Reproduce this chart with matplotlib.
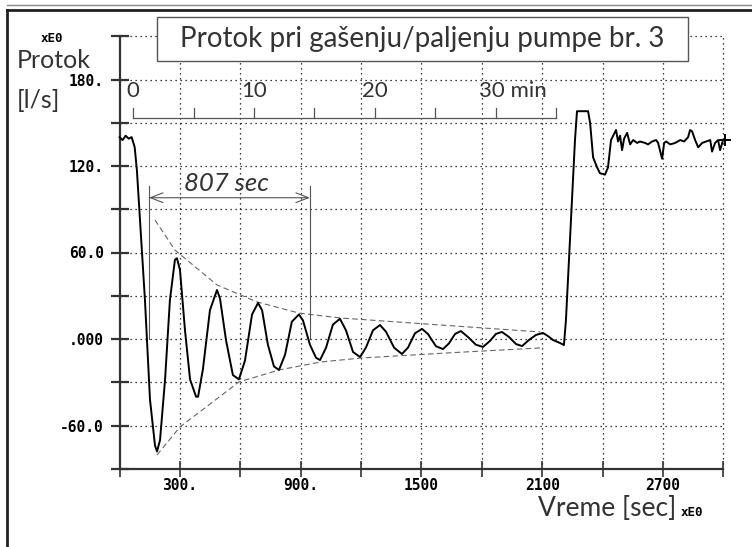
import matplotlib
matplotlib.use("Agg")
import matplotlib.pyplot as plt
from matplotlib.lines import Line2D
from matplotlib.patches import Rectangle

# flow trace: time [s], flow [l/s]
time_s = [0, 15, 30, 45, 60, 75, 86, 106, 126, 151, 176, 186, 201, 226, 250, 275, 285, 300,
          325, 350, 380, 390, 414, 449, 484, 499, 529, 563, 593, 623, 658, 688, 708, 737,
          767, 792, 822, 856, 891, 911, 946, 976, 996, 1026, 1060, 1095, 1125, 1160, 1195,
          1224, 1259, 1294, 1324, 1364, 1403, 1433, 1468, 1503, 1532, 1572, 1607, 1637,
          1667, 1696, 1731, 1771, 1806, 1840, 1870, 1900, 1935, 1970, 2000, 2034, 2069,
          2104, 2129, 2154, 2189, 2208, 2218, 2263, 2273, 2328, 2338, 2353, 2373, 2387,
          2412, 2427, 2442, 2467, 2477, 2487, 2497, 2507, 2522, 2537, 2552, 2572, 2586,
          2611, 2626, 2646, 2666, 2676, 2696, 2706, 2716, 2736, 2761, 2786, 2805, 2825,
          2835, 2845, 2860, 2875, 2895, 2915, 2935, 2944, 2959, 2974, 2984, 2999]
flow = [140, 138, 141, 139, 140, 133, 117, 72, 27, -42, -74, -78, -70, -28, 27, 55, 56, 48,
        6, -28, -40, -40, -21, 20, 34, 28, -1, -25, -28, -15, 17, 25, 20, -4,
        -19, -21.5, -11, 12, 17, 13, -4, -13, -14.6, -6, 10, 14, 6, -9, -12.5,
        -6, 6, 9.7, 5, -6, -10.4, -6, 4, 7, 3.5, -5, -7, -3,
        3.5, 5.5, 1.4, -4, -5.5, -1.4, 3.5, 4.9, 1.4, -3.5, -4.9, -0.7, 2.8,
        4.2, 2, -0.7, -2.8, -4.2, 13, 138, 158, 158, 150, 126, 119, 115,
        114, 119, 138, 145, 137, 141, 131, 139, 143, 135, 138, 136, 137,
        136, 135, 137, 138, 136, 125, 136, 137, 135, 136, 138, 137, 140,
        145, 144, 138, 133, 136, 137, 138, 130, 136, 138, 131, 138]

# hand drawn decay envelope
upper_t = [176, 275, 484, 683, 891, 1095, 1493, 2090]
upper_v = [82.5, 61.7, 37.5, 25.7, 18, 14.6, 10.7, 4.9]
lower_t = [186, 300, 593, 792, 996, 1200, 1650, 2090]
lower_v = [-80.4, -61, -29.8, -21.5, -16, -13.2, -9.5, -6.2]

x_ticks = [0, 300, 600, 900, 1200, 1500, 1800, 2100, 2400, 2700, 3000]
x_tick_labels = ["", "300.", "", "900.", "", "1500", "", "2100", "", "2700", ""]
y_ticks = [-90, -60, -30, 0, 30, 60, 90, 120, 150, 180, 210]
y_tick_labels = ["", "-60.0", "", ".000", "", "60.0", "", "120.", "", "180.", ""]

minute_ticks = [0, 5, 10, 15, 20, 25, 30, 35]
minute_labels = {0: "0", 10: "10", 20: "20", 30: "30 min"}
MIN_START = 68          # seconds where the minute scale starts
PERIOD = (146, 946)     # marked oscillation span

HAND = dict(family="Lato", weight="normal", color="#333333")
MONO = dict(family="DejaVu Sans Mono", weight="bold", color="black")

fig = plt.figure(figsize=(7.52, 5.47), dpi=100)
W, H = 752, 547
ax = fig.add_axes([119.6 / W, 1 - 468.75 / H, 603.7 / W, 432.5 / H])
ax.set_xlim(0, 3000)
ax.set_ylim(-90, 210)

for s in ["top", "right"]:
    ax.spines[s].set_visible(False)
for s in ["left", "bottom"]:
    ax.spines[s].set_color("#333333")
    ax.spines[s].set_linewidth(1.6)

ax.set_xticks(x_ticks)
ax.set_xticklabels(x_tick_labels)
ax.set_yticks(y_ticks)
ax.set_yticklabels(y_tick_labels)
ax.tick_params(axis="y", direction="inout", length=13, width=1.6, color="#333333", pad=5)
ax.tick_params(axis="x", direction="inout", length=11, width=1.2, color="#333333", pad=1)
for lab in ax.get_xticklabels() + ax.get_yticklabels():
    lab.set_fontfamily(MONO["family"])
    lab.set_fontweight("bold")
    lab.set_fontsize(10.5)

dots = (0, (1, 3))
for t in x_ticks[1:]:
    ax.axvline(t, color="black", lw=0.9, ls=dots, clip_on=False, zorder=1)
for v in y_ticks[1:]:
    ax.axhline(v, color="black", lw=0.9, ls=dots, clip_on=False, zorder=1)

ax.plot(upper_t, upper_v, color="#666666", lw=0.8, ls=(0, (5, 3)), zorder=2)
ax.plot(lower_t, lower_v, color="#666666", lw=0.8, ls=(0, (5, 3)), zorder=2)

ax.plot(time_s, flow, color="black", lw=1.4, zorder=3, clip_on=False)
ax.plot(time_s[-1] + 8, flow[-1], marker="+", ms=9, mew=1.4, color="black", clip_on=False)

# period marker
for t in PERIOD:
    ax.plot([t, t], [0, 106], color="#555555", lw=0.8, zorder=2)
ax.annotate("", xy=(PERIOD[1], 98), xytext=(PERIOD[0], 98),
            arrowprops=dict(arrowstyle="<->,head_length=0.9,head_width=0.35",
                            color="#555555", lw=0.8, shrinkA=0, shrinkB=0))
ax.text(sum(PERIOD) / 2 - 15, 108, "807 sec", ha="center", va="center", fontsize=18.5,
        style="italic", **HAND)

# minute scale
m_end = MIN_START + minute_ticks[-1] * 60
ax.plot([MIN_START, m_end], [153, 153], color="#555555", lw=0.9)
for m in minute_ticks:
    t = MIN_START + m * 60
    ax.plot([t, t], [153, 160], color="#555555", lw=0.9)
for m, lab in minute_labels.items():
    if m == 30:
        ax.text(MIN_START + m * 60 - 80, 172, lab, ha="left", va="center", fontsize=16, **HAND)
    else:
        ax.text(MIN_START + m * 60, 172, lab, ha="center", va="center", fontsize=16, **HAND)

# title box
fig.add_artist(Rectangle((157 / W, 1 - 61 / H), 531 / W, 44 / H, transform=fig.transFigure,
                         facecolor="white", edgecolor="#555555", lw=1.0, zorder=5))
fig.text(422 / W, 1 - 39 / H, "Protok pri gašenju/paljenju pumpe br. 3", ha="center",
         va="center", fontsize=20, zorder=6, **HAND)

# axis captions
fig.text(52 / W, 1 - 38 / H, "xE0", ha="center", va="center", fontsize=9, **MONO)
fig.text(17 / W, 1 - 60 / H, "Protok", ha="left", va="center", fontsize=18, **HAND)
fig.text(17 / W, 1 - 101 / H, "[l/s]", ha="left", va="center", fontsize=18, **HAND)
fig.text(676 / W, 1 - 508 / H, "Vreme [sec]", ha="right", va="center", fontsize=19, **HAND)
fig.text(681 / W, 1 - 513 / H, "xE0", ha="left", va="center", fontsize=9, **MONO)

# outer frame
fig.add_artist(Line2D([7 / W, 1], [1 - 5 / H, 1 - 5 / H], color="#888888", lw=1.0))
fig.add_artist(Line2D([7 / W, 1], [1 - 9.5 / H, 1 - 9.5 / H], color="#222222", lw=2.0))
fig.add_artist(Line2D([7 / W, 7 / W], [0, 1 - 9.5 / H], color="#222222", lw=2.0))

fig.savefig("out.png", dpi=100, facecolor="white")
